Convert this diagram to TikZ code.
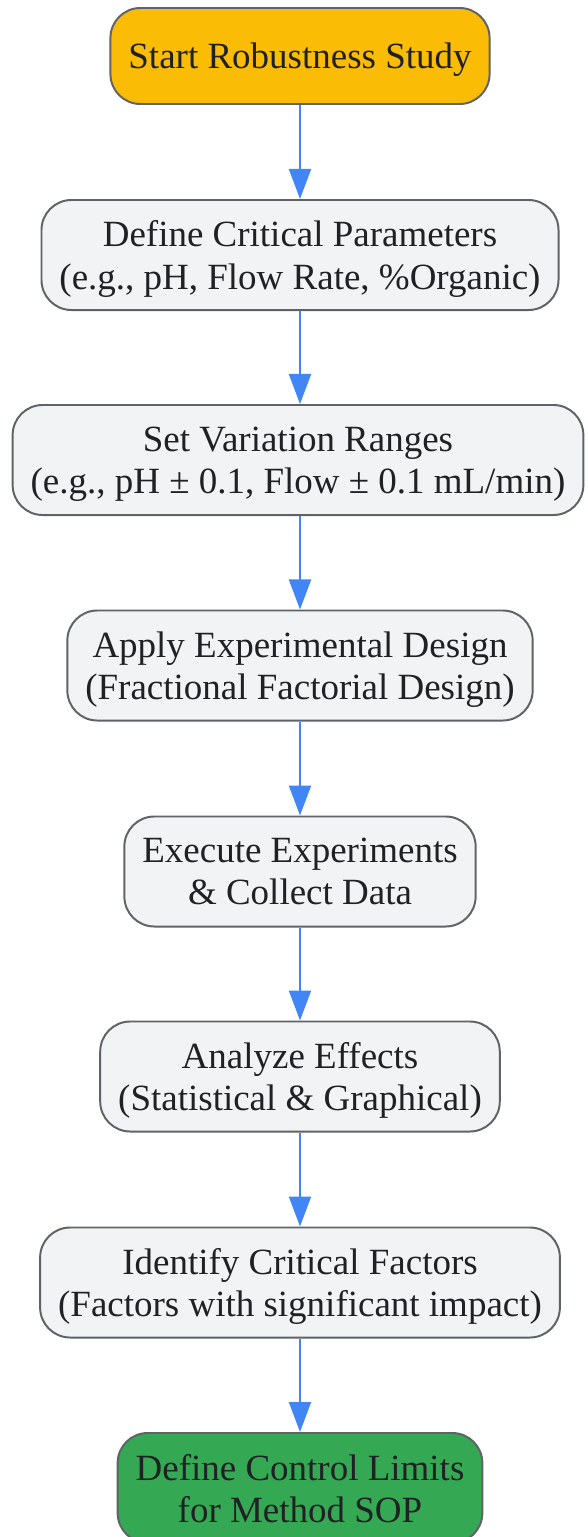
\documentclass[tikz,border=0pt]{standalone}
\usepackage{fontspec}
\setmainfont{Liberation Serif}
\usetikzlibrary{arrows.meta}

\definecolor{startorange}{HTML}{FBBC05}
\definecolor{endgreen}{HTML}{34A853}
\definecolor{boxgray}{HTML}{F1F3F4}
\definecolor{edgegray}{HTML}{5F6368}
\definecolor{textdark}{HTML}{202124}
\definecolor{flowblue}{HTML}{4285F4}

\tikzset{
  stepbox/.style={draw=edgegray, line width=1.4pt, fill=boxgray, rounded corners=0.75cm,
    align=center, text=textdark, inner xsep=0.45cm, minimum height=2.75cm, text depth=0pt,
    font=\fontsize{26.3pt}{29.9pt}\selectfont},
  startbox/.style={stepbox, fill=startorange, minimum height=2.4cm},
  endbox/.style={stepbox, fill=endgreen},
  flow/.style={line width=1.4pt, color=flowblue, -{Triangle[width=0.55cm,length=0.75cm]}}
}

\begin{document}
\begin{tikzpicture}[x=0.025cm,y=-0.025cm]
  \useasboundingbox (0,0) rectangle (587,1537);

  \node[startbox] (start) at (300,56) {Start Robustness Study};
  \node[stepbox] (params) at (300,255) {Define Critical Parameters\\(e.g., pH, Flow Rate, \%Organic)};
  \node[stepbox] (ranges) at (298,460) {Set Variation Ranges\\(e.g., pH ± 0.1, Flow ± 0.1 mL/min)};
  \node[stepbox] (design) at (300,665.5) {Apply Experimental Design\\(Fractional Factorial Design)};
  \node[stepbox] (execute) at (300,871.5) {Execute Experiments\\\& Collect Data};
  \node[stepbox] (analyze) at (300,1076.5) {Analyze Effects\\(Statistical \& Graphical)};
  \node[stepbox] (identify) at (300,1282.5) {Identify Critical Factors\\(Factors with significant impact)};
  \node[endbox] (limits) at (300,1488) {Define Control Limits\\for Method SOP};

  \draw[flow] (start) -- (params);
  \draw[flow] (params) -- (ranges.north -| params);
  \draw[flow] (ranges.south -| design) -- (design);
  \draw[flow] (design) -- (execute);
  \draw[flow] (execute) -- (analyze);
  \draw[flow] (analyze) -- (identify);
  \draw[flow] (identify) -- (limits);
\end{tikzpicture}
\end{document}
